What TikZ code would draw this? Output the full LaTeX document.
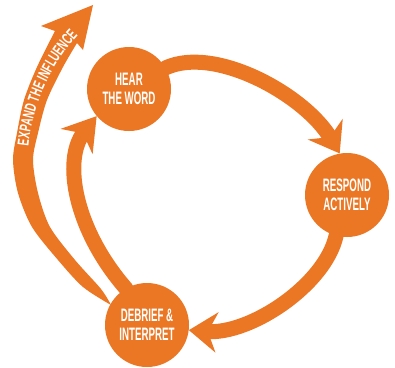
\documentclass[tikz,border=0pt]{standalone}
\usepackage{fontspec}
\setmainfont{Liberation Sans}
\newfontfamily\cnd[FakeStretch=0.54]{Liberation Sans}
\newfontfamily\expfont[FakeStretch=0.62]{Liberation Sans}
\usetikzlibrary{arrows.meta,decorations.text}
\definecolor{org}{RGB}{235,119,36}
\pgfdeclarelayer{bg}
\pgfsetlayers{bg,main}
\begin{document}
\begin{tikzpicture}[x=1pt,y=-1pt,
  stage/.style={circle, fill=org, minimum size=84pt, inner sep=0pt, text=white, align=center,
    font=\cnd\bfseries\fontsize{18pt}{19.5pt}\selectfont},
  flow/.style={draw=org, line width=15pt, line cap=round,
    -{Stealth[length=28pt,width=40pt,inset=9pt]}},
]
\node[stage] (hear) at (129,89) {HEAR\\THE WORD};
\node[stage] (respond) at (347,195) {RESPOND\\ACTIVELY};
\node[stage] (debrief) at (147,325) {DEBRIEF \&\\INTERPRET};
\coordinate (exptip) at (93,5);
\begin{pgfonlayer}{bg}
\fill[white] (0,0) rectangle (395,367);
\draw[flow] (hear.30) .. controls (215,45) and (305,95) .. (respond.100);
\draw[flow] (respond.255) .. controls (325,285) and (250,335) .. (debrief.-7);
\draw[flow, -{Stealth[length=32pt,width=40pt,inset=10pt]}] (debrief.120) .. controls (75,230) and (62,160) .. (hear.220);
\fill[org] (exptip) -- (41,26) -- (55,31)
  -- plot[smooth] coordinates {(55,31) (37,67) (24,100) (17,133) (13,160) (18,193) (32,227) (58,260) (83,287) (111,305)}
  -- plot[smooth] coordinates {(111,305) (101,289) (75,260) (50,227) (38,193) (33,160) (38,133) (47,100) (63,67) (77,43)}
  -- (83,50) -- cycle;
\end{pgfonlayer}
\path[decorate, decoration={text along path, text color=white,
  text align={align=right, right indent=3pt},
  text={|\expfont\bfseries\fontsize{16pt}{18pt}\selectfont|EXPAND THE INFLUENCE}}]
  (27,175) .. controls (26,120) and (45,70) .. (80,33);
\end{tikzpicture}
\end{document}
